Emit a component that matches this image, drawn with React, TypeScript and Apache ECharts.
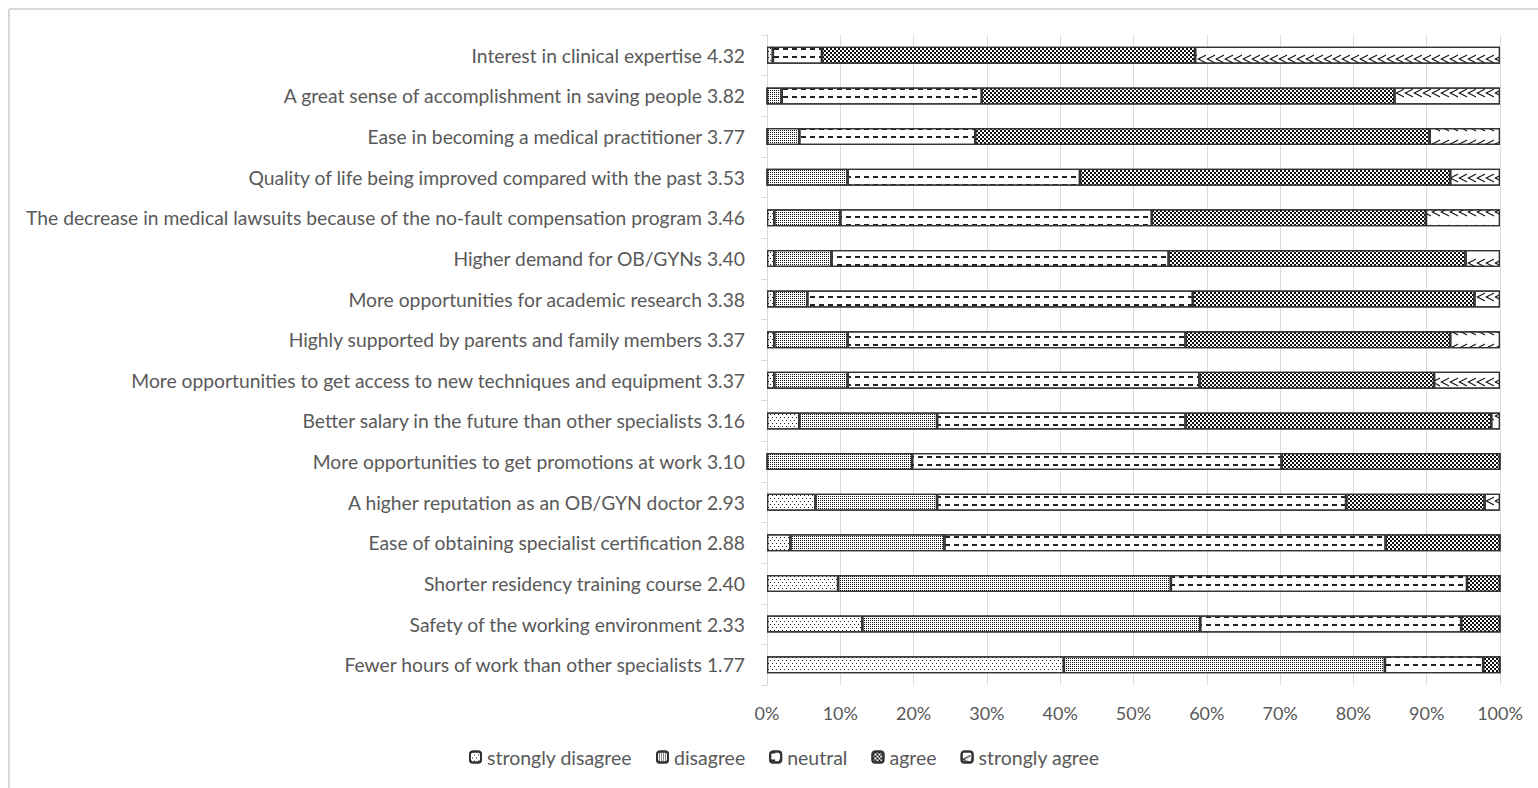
import React, { useEffect, useRef } from "react";
import * as echarts from "echarts";

const categories = [
  "Interest in clinical expertise 4.32",
  "A great sense of accomplishment in saving people 3.82",
  "Ease in becoming a medical practitioner 3.77",
  "Quality of life being improved compared with the past 3.53",
  "The decrease in medical lawsuits because of the no-fault compensation program 3.46",
  "Higher demand for OB/GYNs 3.40",
  "More opportunities for academic research 3.38",
  "Highly supported by parents and family members 3.37",
  "More opportunities to get access to new techniques and equipment 3.37",
  "Better salary in the future than other specialists 3.16",
  "More opportunities to get promotions at work 3.10",
  "A higher reputation as an OB/GYN doctor 2.93",
  "Ease of obtaining specialist certification 2.88",
  "Shorter residency training course 2.40",
  "Safety of the working environment 2.33",
  "Fewer hours of work than other specialists 1.77",
];

const stronglyDisagree = [0.8, 0, 0, 0, 1.0, 1.0, 1.0, 1.0, 1.0, 4.4, 0, 6.6, 3.2, 9.7, 13.0, 40.5];
const disagree = [0, 2.0, 4.4, 11.0, 9.0, 7.8, 4.5, 10.0, 10.0, 18.8, 19.8, 16.6, 21.0, 45.4, 46.1, 43.8];
const neutral = [6.7, 27.3, 24.0, 31.7, 42.5, 46.0, 52.6, 46.1, 48.0, 33.9, 50.4, 55.8, 60.2, 40.4, 35.6, 13.4];
const agree = [50.9, 56.3, 62.0, 50.5, 37.4, 40.5, 38.4, 36.1, 32.0, 41.7, 29.8, 18.9, 15.6, 4.5, 5.3, 2.3];
const stronglyAgree = [41.6, 14.4, 9.6, 6.8, 10.1, 4.7, 3.5, 6.8, 9.0, 1.2, 0, 2.1, 0, 0, 0, 0];

const seriesNames = ["strongly disagree", "disagree", "neutral", "agree", "strongly agree"];
const seriesValues = [stronglyDisagree, disagree, neutral, agree, stronglyAgree];

const xTicks = [0, 10, 20, 30, 40, 50, 60, 70, 80, 90, 100];

const decals: any[] = [
  {
    symbol: "rect",
    symbolSize: 1,
    dashArrayX: [[1, 3], [0, 2, 1, 1]],
    dashArrayY: [1, 2],
    color: "#222",
    backgroundColor: "#ffffff",
  },
  {
    symbol: "rect",
    symbolSize: 1,
    dashArrayX: [1, 1],
    dashArrayY: [1, 1],
    color: "#111",
    backgroundColor: "#8c8c8c",
  },
  {
    symbol: "rect",
    symbolSize: 1,
    dashArrayX: [5, 4],
    dashArrayY: [2, 6],
    color: "#222",
    backgroundColor: "#ffffff",
  },
  {
    symbol: "rect",
    symbolSize: 1,
    dashArrayX: [[2, 2], [0, 2, 2, 0]],
    dashArrayY: [2, 0],
    color: "#111",
    backgroundColor: "#ffffff",
  },
  {
    symbol: "path://M10,0 L0,5 L10,10 L10,8.6 L2.8,5 L10,1.4 Z",
    symbolSize: 1,
    dashArrayX: [9, 0],
    dashArrayY: [16, 1],
    color: "#111",
    backgroundColor: "#ffffff",
  },
];

export default function App() {
  const ref = useRef<HTMLDivElement>(null);
  useEffect(() => {
    if (!ref.current) return;
    const chart = echarts.init(ref.current, null, { renderer: "svg" });
    const font = "Lato";
    chart.setOption({
      animation: false,
      backgroundColor: "#ffffff",
      textStyle: { fontFamily: font },
      grid: { left: 767, right: 38, top: 35, bottom: 103, containLabel: false },
      legend: {
        top: 742,
        left: 464,
        itemWidth: 11,
        itemHeight: 11,
        itemGap: 24,
        textStyle: { color: "#595959", fontSize: 19.5, fontFamily: font, padding: [0, 0, 0, 1] },
        data: seriesNames,
      },
      xAxis: {
        type: "value",
        min: 0,
        max: 100,
        interval: 10,
        axisLine: { show: false },
        axisTick: { show: false },
        splitLine: { show: true, lineStyle: { color: "#d9d9d9", width: 1 } },
        axisLabel: {
          color: "#595959",
          fontSize: 18,
          margin: 19,
          formatter: (v: number) => (xTicks.includes(v) ? v + "%" : ""),
        },
      },
      yAxis: {
        type: "category",
        inverse: true,
        data: categories,
        axisLine: { show: true, lineStyle: { color: "#d9d9d9", width: 1 } },
        axisTick: { show: true, length: 6, lineStyle: { color: "#d9d9d9" } },
        axisLabel: { color: "#595959", fontSize: 19.3, margin: 22 },
      },
      series: seriesNames.map((name, i) => ({
        name,
        type: "bar",
        stack: "total",
        barWidth: 17,
        data: seriesValues[i],
        itemStyle: {
          color: "#ffffff",
          borderColor: "#333333",
          borderWidth: 1.2,
          decal: decals[i],
        },
      })),
      graphic: [
        {
          type: "line",
          shape: { x1: 9, y1: 9, x2: 1538, y2: 9 },
          style: { stroke: "#d9d9d9", lineWidth: 2 },
        },
        {
          type: "line",
          shape: { x1: 9, y1: 9, x2: 9, y2: 788 },
          style: { stroke: "#d9d9d9", lineWidth: 2 },
        },
      ],
    });
    return () => chart.dispose();
  }, []);
  return (
    <div
      ref={ref}
      style={{ position: "fixed", left: 0, top: 0, width: 1538, height: 788, background: "#fff" }}
    />
  );
}
